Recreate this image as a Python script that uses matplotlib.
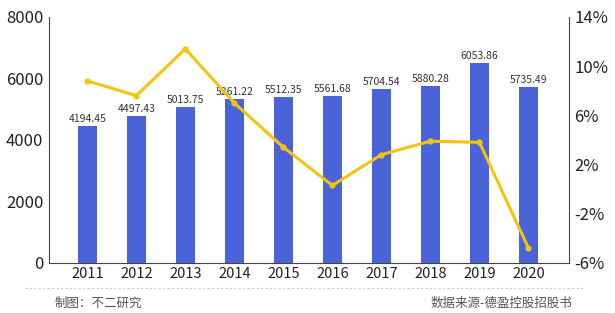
import matplotlib
matplotlib.use("Agg")
import matplotlib.pyplot as plt
import numpy as np

plt.rcParams['font.family'] = ['Noto Sans CJK SC', 'DejaVu Sans']

years = ['2011', '2012', '2013', '2014', '2015', '2016', '2017', '2018', '2019', '2020']
# bar heights as drawn in the picture, labels as printed on it
bar_height = [4450, 4780, 5070, 5330, 5400, 5430, 5660, 5760, 6500, 5720]
bar_label = ['4194.45', '4497.43', '5013.75', '5261.22', '5512.35',
             '5561.68', '5704.54', '5880.28', '6053.86', '5735.49']
growth = [8.8, 7.6, 11.4, 7.0, 3.4, 0.3, 2.8, 3.9, 3.8, -4.8]

fig = plt.figure(figsize=(6.15, 3.13), dpi=100)
ax = fig.add_axes([0.0797, 0.16, 0.845, 0.786])
x = np.arange(len(years))

ax.bar(x, bar_height, width=0.38, color='#4a63d8', zorder=2)
for xi, h, lab in zip(x, bar_height, bar_label):
    ax.text(xi, h + 60, lab, ha='center', va='bottom', fontsize=7.5, color='#333333')

ax.set_ylim(0, 8000)
ax.set_yticks([0, 2000, 4000, 6000, 8000])
ax.set_xlim(-0.78, 9.82)
ax.set_xticks(x)
ax.set_xticklabels(years)
ax.tick_params(axis='both', length=0, colors='#222222')
ax.tick_params(axis='y', labelsize=12, pad=4)
ax.tick_params(axis='x', labelsize=10.5, pad=3)
for s in ['top', 'right']:
    ax.spines[s].set_visible(False)
ax.spines['left'].set_color('#444444')
ax.spines['bottom'].set_color('#444444')

ax2 = ax.twinx()
ax2.plot(x, growth, color='#f2c40f', lw=2.2, marker='o', markersize=3.5, zorder=3)
ax2.set_ylim(-6, 14)
ax2.set_yticks([-6, -2, 2, 6, 10, 14])
ax2.set_yticklabels(['-6%', '-2%', '2%', '6%', '10%', '14%'])
ax2.tick_params(axis='y', length=0, labelsize=12, colors='#222222', pad=4)
for s in ['top', 'left', 'bottom']:
    ax2.spines[s].set_visible(False)
ax2.spines['right'].set_color('#444444')

fig.add_artist(plt.Line2D([0.04, 0.95], [0.08, 0.08], transform=fig.transFigure,
                          color='#cccccc', lw=0.8, ls=(0, (2, 2))))
fig.text(0.088, 0.03, '制图：不二研究', fontsize=9, color='#555555', ha='left', va='center')
fig.text(0.93, 0.03, '数据来源-德盈控股招股书', fontsize=9, color='#555555', ha='right', va='center')

fig.savefig('out.png', dpi=100)
